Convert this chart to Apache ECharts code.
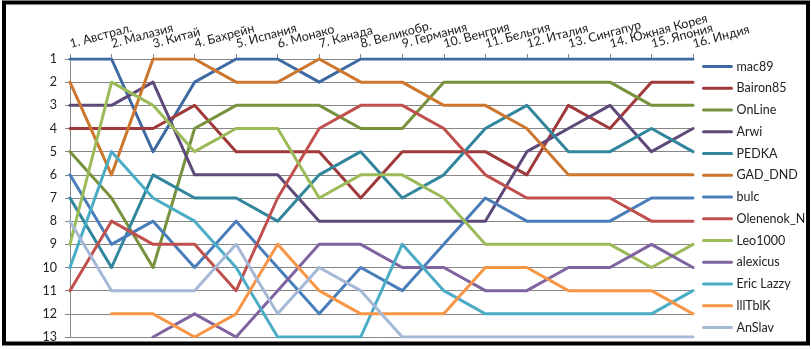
<!DOCTYPE html>
<html>
<head>
<meta charset="utf-8">
<script src="https://cdn.jsdelivr.net/npm/echarts@6/dist/echarts.min.js"></script>
<style>
  html, body { margin: 0; padding: 0; background: #fff; }
  #chart { width: 811px; height: 349px; }
</style>
</head>
<body>
<div id="chart"></div>
<script>
// Stage names (x axis, drawn along the top)
const stages = ['1. Австрал.', '2. Малазия', '3. Китай', '4. Бахрейн', '5. Испания', '6. Монако',
  '7. Канада', '8. Великобр.', '9. Германия', '10. Венгрия', '11. Бельгия', '12. Италия',
  '13. Сингапур', '14. Южная Корея', '15. Япония', '16. Индия'];

// Place after each stage for every player (null = not in the table yet)
const mac89      = [1, 1, 5, 2, 1, 1, 2, 1, 1, 1, 1, 1, 1, 1, 1, 1];
const bairon85   = [4, 4, 4, 3, 5, 5, 5, 7, 5, 5, 5, 6, 3, 4, 2, 2];
const onLine     = [5, 7, 10, 4, 3, 3, 3, 4, 4, 2, 2, 2, 2, 2, 3, 3];
const arwi       = [3, 3, 2, 6, 6, 6, 8, 8, 8, 8, 8, 5, 4, 3, 5, 4];
const pedka      = [7, 10, 6, 7, 7, 8, 6, 5, 7, 6, 4, 3, 5, 5, 4, 5];
const gadDnd     = [2, 6, 1, 1, 2, 2, 1, 2, 2, 3, 3, 4, 6, 6, 6, 6];
const bulc       = [6, 9, 8, 10, 8, 10, 12, 10, 11, 9, 7, 8, 8, 8, 7, 7];
const olenenokN  = [11, 8, 9, 9, 11, 7, 4, 3, 3, 4, 6, 7, 7, 7, 8, 8];
const leo1000    = [9, 2, 3, 5, 4, 4, 7, 6, 6, 7, 9, 9, 9, 9, 10, 9];
const alexicus   = [null, null, 13, 12, 13, 11, 9, 9, 10, 10, 11, 11, 10, 10, 9, 10];
const ericLazzy  = [10, 5, 7, 8, 10, 13, 13, 13, 9, 11, 12, 12, 12, 12, 12, 11];
const lllTblK    = [null, 12, 12, 13, 12, 9, 11, 12, 12, 12, 10, 10, 11, 11, 11, 12];
const anSlav     = [8, 11, 11, 11, 9, 12, 10, 11, 13, 13, 13, 13, 13, 13, 13, 13];

// Rank ticks on the y axis
const rankTicks = [1, 2, 3, 4, 5, 6, 7, 8, 9, 10, 11, 12, 13];

const players = [
  { name: 'mac89',      data: mac89,     color: '#3d6aa3' },
  { name: 'Bairon85',   data: bairon85,  color: '#a0393a' },
  { name: 'OnLine',     data: onLine,    color: '#76923c' },
  { name: 'Arwi',       data: arwi,      color: '#5f497a' },
  { name: 'PEDKA',      data: pedka,     color: '#31869d' },
  { name: 'GAD_DND',    data: gadDnd,    color: '#cc762e' },
  { name: 'bulc',       data: bulc,      color: '#4a7ebb' },
  { name: 'Olenenok_N', data: olenenokN, color: '#c0504d' },
  { name: 'Leo1000',    data: leo1000,   color: '#9bbb59' },
  { name: 'alexicus',   data: alexicus,  color: '#8064a2' },
  { name: 'Eric Lazzy', data: ericLazzy, color: '#4bacc6' },
  { name: 'lllTblK',    data: lllTblK,   color: '#f79646' },
  { name: 'AnSlav',     data: anSlav,    color: '#a5b8d6' }
];

const font = 'Lato, "Open Sans", sans-serif';
const chart = echarts.init(document.getElementById('chart'), null, { renderer: 'canvas' });

chart.setOption({
  animation: false,
  backgroundColor: '#ffffff',
  grid: { left: 70, right: 118, top: 59, bottom: 12, containLabel: false },
  xAxis: {
    type: 'category',
    position: 'top',
    data: stages,
    boundaryGap: false,
    axisLine: { show: true, lineStyle: { color: '#868686', width: 1 } },
    axisTick: { show: true, alignWithLabel: true, length: 5, lineStyle: { color: '#868686' } },
    axisLabel: {
      rotate: -15, margin: 15, align: 'left', verticalAlign: 'middle',
      color: '#222', fontFamily: font, fontSize: 12.5, interval: 0
    },
    splitLine: { show: false }
  },
  yAxis: {
    type: 'value',
    inverse: true,
    min: rankTicks[0],
    max: rankTicks[rankTicks.length - 1],
    interval: 1,
    axisLine: { show: true, lineStyle: { color: '#868686', width: 1 } },
    axisTick: { show: true, length: 5, lineStyle: { color: '#868686' } },
    axisLabel: { margin: 13, color: '#222', fontFamily: font, fontSize: 12.5 },
    splitLine: { show: true, lineStyle: { color: '#868686', width: 1 } }
  },
  legend: {
    orient: 'vertical',
    left: 697,
    top: 55,
    itemWidth: 28,
    itemHeight: 14,
    itemGap: 8.75,
    itemStyle: { opacity: 0 },
    lineStyle: { width: 3 },
    textStyle: { color: '#222', fontFamily: font, fontSize: 12.5 },
    data: players.map(p => p.name)
  },
  series: players.map(p => ({
    name: p.name,
    type: 'line',
    data: p.data,
    symbol: 'none',
    connectNulls: false,
    clip: true,
    color: p.color,
    lineStyle: { color: p.color, width: 3, cap: 'round', join: 'round' }
  })),
  graphic: [{
    type: 'rect',
    shape: { x: 4, y: 2.5, width: 804, height: 341 },
    style: { fill: 'none', stroke: '#000', lineWidth: 4 },
    silent: true,
    z: 100
  }]
});
</script>
</body>
</html>
